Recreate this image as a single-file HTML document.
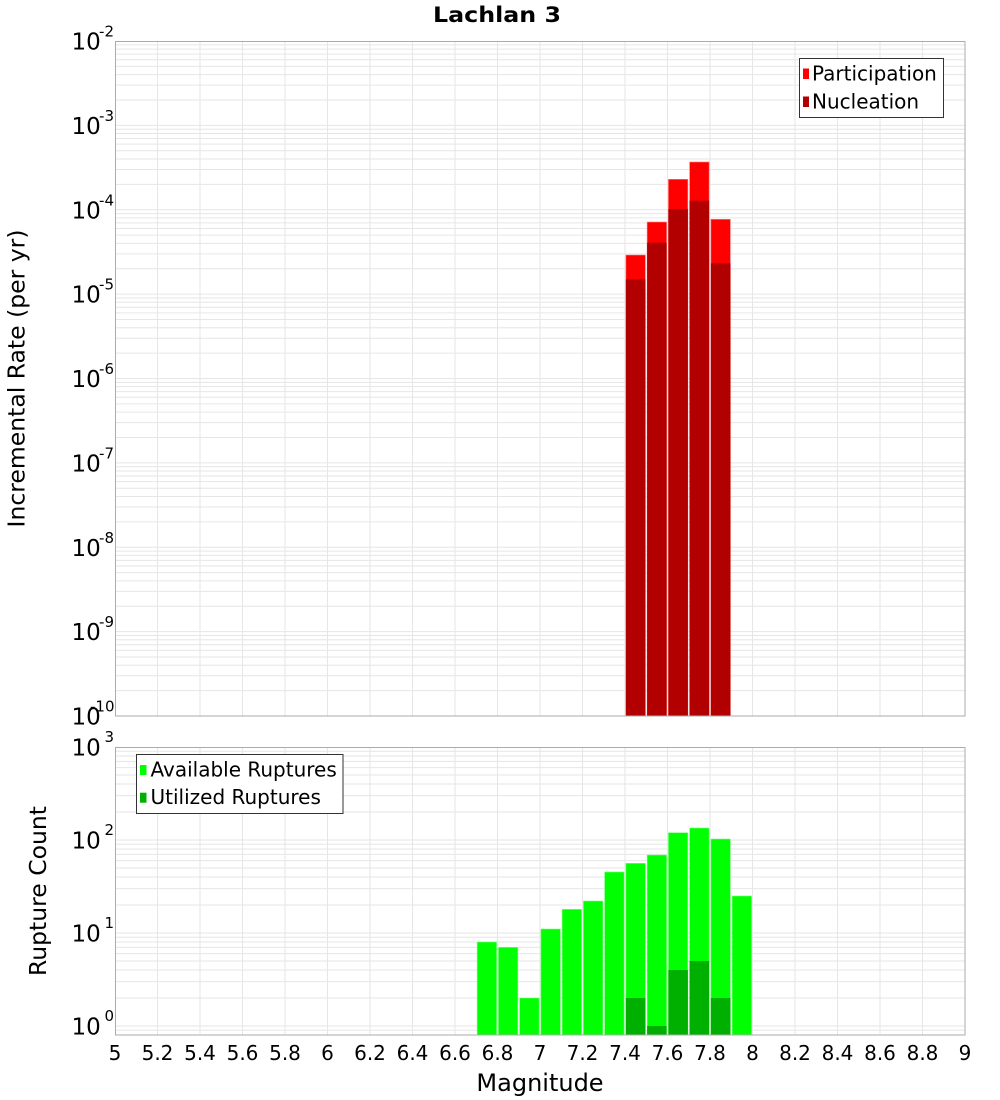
<!DOCTYPE html>
<html>
<head>
<meta charset="utf-8">
<style>
html,body{margin:0;padding:0;background:#fff;}
svg{display:block;}
text{font-family:"DejaVu Sans","Liberation Sans",sans-serif;fill:#000;}
</style>
</head>
<body>
<svg width="1000" height="1100" viewBox="0 0 1000 1100" xmlns="http://www.w3.org/2000/svg">
<rect x="0" y="0" width="1000" height="1100" fill="#fff"/>

<!-- Title -->
<text x="497" y="22" font-size="21" font-weight="bold" text-anchor="middle" textLength="128" lengthAdjust="spacingAndGlyphs">Lachlan 3</text>

<!-- ===== TOP PLOT ===== -->
<g stroke="#e6e6e6" stroke-width="1" fill="none">
<path d="M115 44.86H965M115 49.18H965M115 54.07H965M115 59.72H965M115 66.40H965M115 74.58H965M115 85.12H965M115 99.98H965M115 125.375H965
M115 129.24H965M115 133.56H965M115 138.45H965M115 144.10H965M115 150.78H965M115 158.96H965M115 169.50H965M115 184.36H965M115 209.75H965
M115 213.61H965M115 217.93H965M115 222.82H965M115 228.47H965M115 235.15H965M115 243.33H965M115 253.87H965M115 268.73H965M115 294.125H965
M115 297.99H965M115 302.31H965M115 307.20H965M115 312.85H965M115 319.53H965M115 327.71H965M115 338.25H965M115 353.11H965M115 378.5H965
M115 382.36H965M115 386.68H965M115 391.57H965M115 397.22H965M115 403.90H965M115 412.08H965M115 422.62H965M115 437.48H965M115 462.875H965
M115 466.74H965M115 471.06H965M115 475.95H965M115 481.60H965M115 488.28H965M115 496.46H965M115 507.00H965M115 521.86H965M115 547.25H965
M115 551.11H965M115 555.43H965M115 560.32H965M115 565.97H965M115 572.65H965M115 580.83H965M115 591.37H965M115 606.23H965M115 631.625H965
M115 635.49H965M115 639.81H965M115 644.70H965M115 650.35H965M115 657.03H965M115 665.21H965M115 675.75H965M115 690.61H965"/>
<path d="M157.5 41V716M200 41V716M242.5 41V716M285 41V716M327.5 41V716M370 41V716M412.5 41V716M455 41V716M497.5 41V716M540 41V716M582.5 41V716M625 41V716M667.5 41V716M710 41V716M752.5 41V716M795 41V716M837.5 41V716M880 41V716M922.5 41V716"/>
</g>

<!-- top bars: participation -->
<g fill="#ff0000" stroke="#ff8080" stroke-width="0.6">
<rect x="625.9" y="255" width="19.5" height="461"/>
<rect x="647.1" y="222" width="19.5" height="494"/>
<rect x="668.4" y="179.3" width="19.5" height="536.7"/>
<rect x="689.6" y="162" width="19.5" height="554"/>
<rect x="710.9" y="219.3" width="19.5" height="496.7"/>
</g>
<!-- top bars: nucleation -->
<g fill="#b20000">
<rect x="625.9" y="279.3" width="19.5" height="436.7"/>
<rect x="647.1" y="242.7" width="19.5" height="473.3"/>
<rect x="668.4" y="209" width="19.5" height="507"/>
<rect x="689.6" y="200.7" width="19.5" height="515.3"/>
<rect x="710.9" y="263.3" width="19.5" height="452.7"/>
</g>

<rect x="115.5" y="41.5" width="849.5" height="674.5" fill="none" stroke="#ababab" stroke-width="1"/>

<!-- top legend -->
<rect x="799.5" y="58.5" width="144" height="59" fill="#fff" stroke="#333" stroke-width="1"/>
<rect x="803" y="68.5" width="6" height="10.5" fill="#ff0000"/>
<rect x="803" y="96.5" width="6" height="10.5" fill="#b20000"/>
<text x="812" y="80.5" font-size="20">Participation</text>
<text x="812" y="108.3" font-size="20">Nucleation</text>

<!-- top y labels -->
<g font-size="23">
<text x="71.5" y="49.5">10</text>
<text x="71.5" y="133.9">10</text>
<text x="71.5" y="218.3">10</text>
<text x="71.5" y="302.6">10</text>
<text x="71.5" y="387">10</text>
<text x="71.5" y="471.4">10</text>
<text x="71.5" y="555.8">10</text>
<text x="71.5" y="640.1">10</text>
<text x="71.5" y="724.5">10</text>
</g>
<g font-size="15" text-anchor="end">
<text x="114" y="36.5">-2</text>
<text x="114" y="120.9">-3</text>
<text x="114" y="205.3">-4</text>
<text x="114" y="289.6">-5</text>
<text x="114" y="374">-6</text>
<text x="114" y="458.4">-7</text>
<text x="114" y="542.8">-8</text>
<text x="114" y="627.1">-9</text>
<text x="114.5" y="711.5">-10</text>
</g>

<text transform="translate(24.5,378.5) rotate(-90)" font-size="23.5" text-anchor="middle">Incremental Rate (per yr)</text>

<!-- ===== BOTTOM PLOT ===== -->
<g stroke="#e6e6e6" stroke-width="1" fill="none">
<path d="M115 751.26H965M115 756.01H965M115 761.41H965M115 767.63H965M115 775.0H965M115 784.01H965M115 795.63H965M115 812.0H965M115 840H965
M115 844.26H965M115 849.01H965M115 854.41H965M115 860.63H965M115 868.0H965M115 877.01H965M115 888.63H965M115 905.0H965M115 933H965
M115 937.26H965M115 942.01H965M115 947.41H965M115 953.63H965M115 961.0H965M115 970.01H965M115 981.63H965M115 998.0H965M115 1026H965
M115 1030.26H965"/>
<path d="M157.5 747V1035M200 747V1035M242.5 747V1035M285 747V1035M327.5 747V1035M370 747V1035M412.5 747V1035M455 747V1035M497.5 747V1035M540 747V1035M582.5 747V1035M625 747V1035M667.5 747V1035M710 747V1035M752.5 747V1035M795 747V1035M837.5 747V1035M880 747V1035M922.5 747V1035"/>
</g>

<!-- available -->
<g fill="#00ff00" stroke="#80ff80" stroke-width="0.6">
<rect x="477.1" y="942" width="19.5" height="93"/>
<rect x="498.4" y="947.3" width="19.5" height="87.7"/>
<rect x="519.6" y="998" width="19.5" height="37"/>
<rect x="540.9" y="929" width="19.5" height="106"/>
<rect x="562.1" y="909.3" width="19.5" height="125.7"/>
<rect x="583.4" y="901" width="19.5" height="134"/>
<rect x="604.6" y="872" width="19.5" height="163"/>
<rect x="625.9" y="863.3" width="19.5" height="171.7"/>
<rect x="647.1" y="855" width="19.5" height="180"/>
<rect x="668.4" y="832.7" width="19.5" height="202.3"/>
<rect x="689.6" y="828" width="19.5" height="207"/>
<rect x="710.9" y="839" width="19.5" height="196"/>
<rect x="732.1" y="896" width="19.5" height="139"/>
</g>
<!-- utilized -->
<g fill="#00b000">
<rect x="625.9" y="998" width="19.5" height="37"/>
<rect x="647.1" y="1026" width="19.5" height="9"/>
<rect x="668.4" y="970" width="19.5" height="65"/>
<rect x="689.6" y="961" width="19.5" height="74"/>
<rect x="710.9" y="998" width="19.5" height="37"/>
</g>

<rect x="115.5" y="747.5" width="849.5" height="287.5" fill="none" stroke="#ababab" stroke-width="1"/>

<!-- bottom legend -->
<rect x="136.5" y="754.5" width="206.5" height="59" fill="#fff" stroke="#333" stroke-width="1"/>
<rect x="140" y="765" width="6.5" height="10" fill="#00ff00"/>
<rect x="140" y="792.7" width="6.5" height="10" fill="#00b000"/>
<text x="150.5" y="776.7" font-size="20">Available Ruptures</text>
<text x="150.5" y="804" font-size="20">Utilized Ruptures</text>

<!-- bottom y labels -->
<g font-size="23">
<text x="71.5" y="755.5">10</text>
<text x="71.5" y="848.5">10</text>
<text x="71.5" y="941.5">10</text>
<text x="71.5" y="1034.5">10</text>
</g>
<g font-size="15" text-anchor="end">
<text x="114" y="742">3</text>
<text x="114" y="835">2</text>
<text x="114" y="928">1</text>
<text x="114" y="1021">0</text>
</g>

<text transform="translate(46,891) rotate(-90)" font-size="23.5" text-anchor="middle">Rupture Count</text>

<!-- x tick labels -->
<g font-size="20" text-anchor="middle">
<text x="115" y="1060">5</text>
<text x="157.5" y="1060">5.2</text>
<text x="200" y="1060">5.4</text>
<text x="242.5" y="1060">5.6</text>
<text x="285" y="1060">5.8</text>
<text x="327.5" y="1060">6</text>
<text x="370" y="1060">6.2</text>
<text x="412.5" y="1060">6.4</text>
<text x="455" y="1060">6.6</text>
<text x="497.5" y="1060">6.8</text>
<text x="540" y="1060">7</text>
<text x="582.5" y="1060">7.2</text>
<text x="625" y="1060">7.4</text>
<text x="667.5" y="1060">7.6</text>
<text x="710" y="1060">7.8</text>
<text x="752.5" y="1060">8</text>
<text x="795" y="1060">8.2</text>
<text x="837.5" y="1060">8.4</text>
<text x="880" y="1060">8.6</text>
<text x="922.5" y="1060">8.8</text>
<text x="965" y="1060">9</text>
</g>

<text x="540" y="1091" font-size="24" text-anchor="middle">Magnitude</text>
</svg>
</body>
</html>
